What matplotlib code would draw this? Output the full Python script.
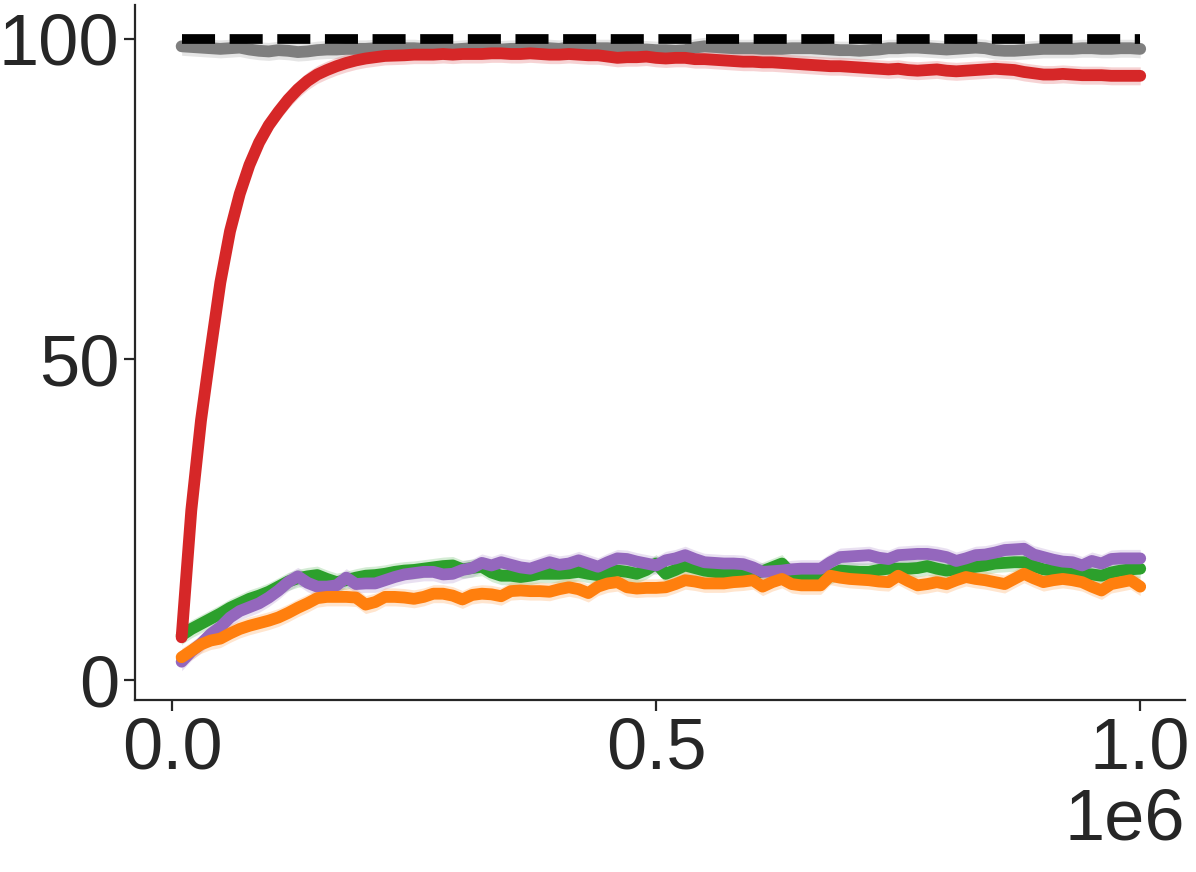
import numpy as np
import matplotlib
matplotlib.use("Agg")
import matplotlib.pyplot as plt

# training steps (0.01e6 .. 1.0e6)
steps = np.arange(1, 101) * 10000

gray = [98.8, 98.7, 98.6, 98.5, 98.4, 98.5, 98.6, 98.3, 98.1, 98.0,
        98.2, 98.1, 97.9, 98.0, 98.2, 98.3, 98.3, 98.4, 98.4, 98.4,
        98.5, 98.4, 98.4, 98.5, 98.5, 98.4, 98.4, 98.3, 98.3, 98.4,
        98.5, 98.5, 98.4, 98.3, 98.4, 98.4, 98.4, 98.5, 98.5, 98.4,
        98.6, 98.7, 98.6, 98.5, 98.5, 98.4, 98.4, 98.3, 98.3, 98.2,
        98.2, 98.1, 98.2, 98.6, 98.8, 98.7, 98.6, 98.5, 98.5, 98.5,
        98.4, 98.4, 98.4, 98.5, 98.5, 98.5, 98.4, 98.3, 98.2, 98.2,
        98.1, 98.2, 98.3, 98.5, 98.5, 98.6, 98.6, 98.5, 98.4, 98.3,
        98.4, 98.5, 98.6, 98.5, 98.2, 98.1, 98.1, 98.2, 98.3, 98.4,
        98.4, 98.4, 98.4, 98.5, 98.5, 98.4, 98.4, 98.5, 98.5, 98.4]

red = [6.7, 26.5, 40.5, 51.5, 62.0, 70.0, 75.8, 80.3, 83.8, 86.5,
       88.6, 90.5, 92.1, 93.4, 94.4, 95.1, 95.7, 96.2, 96.6, 96.9,
       97.1, 97.3, 97.35, 97.4, 97.5, 97.5, 97.5, 97.6, 97.5, 97.6,
       97.6, 97.6, 97.7, 97.7, 97.6, 97.6, 97.7, 97.6, 97.5, 97.5,
       97.6, 97.5, 97.4, 97.4, 97.2, 97.0, 97.1, 97.1, 97.2, 97.0,
       96.9, 97.0, 97.0, 96.8, 96.8, 96.7, 96.6, 96.5, 96.4, 96.4,
       96.3, 96.3, 96.2, 96.1, 96.0, 95.9, 95.8, 95.7, 95.7, 95.6,
       95.5, 95.4, 95.3, 95.2, 95.3, 95.1, 95.0, 95.1, 95.2, 95.0,
       94.9, 95.0, 95.1, 95.2, 95.3, 95.2, 95.1, 94.8, 94.6, 94.4,
       94.4, 94.5, 94.4, 94.3, 94.3, 94.3, 94.2, 94.2, 94.2, 94.2]

green = [7.0, 8.0, 8.8, 9.6, 10.4, 11.3, 12.0, 12.7, 13.2, 13.8,
         14.6, 15.4, 15.9, 16.2, 16.4, 15.8, 15.3, 15.6, 16.0, 16.3,
         16.4, 16.6, 16.9, 17.1, 17.2, 17.4, 17.6, 17.8, 17.9, 17.3,
         17.5, 17.7, 16.8, 16.3, 16.3, 16.1, 16.3, 16.6, 16.6, 16.6,
         16.7, 16.9, 16.6, 16.4, 16.8, 17.1, 16.9, 16.6, 17.2, 18.2,
         16.6, 17.2, 17.9, 17.5, 17.1, 16.9, 16.7, 16.6, 16.6, 16.6,
         17.0, 17.6, 18.2, 16.6, 16.1, 16.0, 15.8, 16.4, 17.1, 17.0,
         16.9, 16.9, 17.2, 17.4, 17.4, 17.4, 17.5, 17.8, 17.4, 17.1,
         17.3, 17.5, 17.7, 17.9, 18.2, 18.3, 18.4, 18.4, 17.8, 17.3,
         17.1, 16.9, 16.8, 16.6, 16.5, 16.3, 16.8, 17.1, 17.3, 17.4]

purple = [2.9, 4.5, 5.7, 7.2, 8.3, 9.8, 10.8, 11.4, 12.0, 12.9,
          14.0, 15.3, 16.2, 15.2, 14.6, 14.6, 14.8, 16.0, 15.0, 15.1,
          15.1, 15.6, 16.1, 16.5, 16.7, 16.9, 16.9, 16.5, 16.6, 17.2,
          17.5, 18.3, 17.9, 18.4, 18.0, 17.6, 17.4, 17.9, 18.4, 18.0,
          18.2, 18.7, 18.2, 17.7, 18.4, 19.0, 18.9, 18.5, 18.2, 17.9,
          18.7, 19.0, 19.5, 18.9, 18.4, 18.3, 18.2, 18.2, 18.1, 17.6,
          16.9, 17.0, 17.1, 17.3, 17.4, 17.4, 17.4, 18.4, 19.2, 19.3,
          19.4, 19.5, 19.1, 18.9, 19.5, 19.6, 19.7, 19.7, 19.5, 19.2,
          18.6, 19.0, 19.5, 19.6, 19.9, 20.3, 20.4, 20.5, 19.6, 19.2,
          18.8, 18.5, 18.4, 17.9, 18.6, 18.2, 18.9, 19.0, 19.0, 19.0]

orange = [3.6, 4.6, 5.6, 6.2, 6.5, 7.3, 8.0, 8.5, 8.9, 9.3,
          9.8, 10.5, 11.3, 12.0, 12.8, 13.0, 13.0, 13.0, 12.9, 11.8,
          12.2, 13.0, 13.0, 12.9, 12.7, 13.0, 13.5, 13.5, 13.2, 12.6,
          13.3, 13.5, 13.4, 13.1, 13.9, 14.0, 13.9, 13.9, 13.8, 14.2,
          14.5, 14.2, 13.6, 14.6, 15.1, 15.3, 14.5, 14.3, 14.4, 14.4,
          14.5, 15.0, 15.6, 15.4, 15.1, 15.1, 15.1, 15.3, 15.4, 15.6,
          14.6, 15.3, 15.8, 15.0, 14.8, 14.8, 14.8, 16.3, 16.0, 15.8,
          15.7, 15.6, 15.4, 15.3, 16.3, 15.5, 14.8, 15.0, 15.3, 15.0,
          15.6, 16.1, 15.8, 15.6, 15.3, 15.0, 15.8, 16.6, 15.9, 15.3,
          15.6, 15.8, 15.6, 15.3, 14.6, 14.0, 15.0, 15.3, 15.6, 14.6]

optimum = [100.0] * len(steps)

plt.rcParams['font.family'] = ['Liberation Sans', 'DejaVu Sans']
text_color = '#262626'

fig = plt.figure(figsize=(11.96, 8.72), dpi=100)
ax = fig.add_axes([0.113, 0.197, 0.878, 0.797])

series = [
    (green, '#2ca02c'),
    (purple, '#9467bd'),
    (orange, '#ff7f0e'),
    (gray, '#7f7f7f'),
    (red, '#d62728'),
]
for vals, col in series:
    v = np.array(vals)
    ax.fill_between(steps, v - 1.4, v + 1.4, color=col, alpha=0.2, lw=0)
    ax.plot(steps, v, color=col, lw=8.5, solid_capstyle='round',
            solid_joinstyle='round')

ax.plot(steps, optimum, color='black', lw=7, ls=(0, (3.4, 1.5)))

ax.set_xlim(-38000, 1046500)
ax.set_ylim(-3.1, 105.2)
ax.set_xticks([0, 500000, 1000000])
ax.set_yticks([0, 50, 100])

for side in ['top', 'right']:
    ax.spines[side].set_visible(False)
for side in ['left', 'bottom']:
    ax.spines[side].set_linewidth(1.6)
    ax.spines[side].set_color(text_color)

ax.tick_params(axis='both', direction='out', length=8, width=1.6,
               colors=text_color, labelsize=52, labelcolor=text_color)
ax.xaxis.get_offset_text().set_fontsize(52)
ax.xaxis.get_offset_text().set_color(text_color)

fig.savefig('out.png', dpi=100)
